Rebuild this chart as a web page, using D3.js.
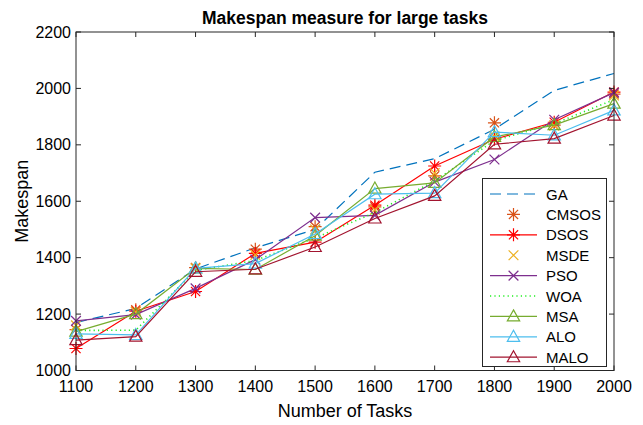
<!DOCTYPE html>
<html>
<head>
<meta charset="utf-8">
<script src="https://cdn.jsdelivr.net/npm/d3@7"></script>
<style>
  html, body { margin: 0; padding: 0; background: #fff; }
  svg { display: block; font-family: "Liberation Sans", Arial, Helvetica, sans-serif; }
</style>
</head>
<body>
<svg id="chart" width="643" height="425"></svg>
<script>
// Number of tasks on the x axis
const tasks = [1100, 1200, 1300, 1400, 1500, 1600, 1700, 1800, 1900, 2000];

// Makespan of each algorithm per task count
const ga    = [1170, 1220, 1360, 1435, 1500, 1703, 1751, 1855, 1993, 2053];
const cmsos = [1145, 1215, 1365, 1430, 1510, 1580, 1690, 1878, 1870, 1980];
const dsos  = [1078, 1210, 1280, 1415, 1455, 1586, 1725, 1820, 1880, 1987];
const msde  = [1160, 1208, 1362, 1410, 1500, 1570, 1700, 1830, 1868, 1975];
const pso   = [1176, 1198, 1291, 1393, 1542, 1550, 1668, 1748, 1889, 1985];
const woa   = [1142, 1143, 1355, 1390, 1470, 1560, 1672, 1815, 1875, 1960];
const msa   = [1138, 1200, 1362, 1358, 1478, 1645, 1665, 1828, 1870, 1946];
const alo   = [1130, 1126, 1362, 1379, 1484, 1625, 1629, 1845, 1834, 1922];
const malo  = [1108, 1120, 1350, 1359, 1438, 1539, 1619, 1802, 1822, 1904];

const yTicks = [1000, 1200, 1400, 1600, 1800, 2000, 2200];

const series = [
  { name: "GA",    values: ga,    color: "#0072BD", line: "dash",  marker: null },
  { name: "CMSOS", values: cmsos, color: "#D95319", line: null,    marker: "asterisk" },
  { name: "DSOS",  values: dsos,  color: "#FF0000", line: "solid", marker: "asterisk" },
  { name: "MSDE",  values: msde,  color: "#EDB120", line: null,    marker: "cross" },
  { name: "PSO",   values: pso,   color: "#7E2F8E", line: "solid", marker: "cross" },
  { name: "WOA",   values: woa,   color: "#22EE22", line: "dot",   marker: null },
  { name: "MSA",   values: msa,   color: "#77AC30", line: "solid", marker: "triangle" },
  { name: "ALO",   values: alo,   color: "#4DBEEE", line: "solid", marker: "triangle" },
  { name: "MALO",  values: malo,  color: "#A2142F", line: "solid", marker: "triangle" }
];

const svg = d3.select("#chart");
const plotLeft = 76, plotRight = 614, plotTop = 32, plotBottom = 370.5;
const axisColor = "#262626";

const x = d3.scaleLinear().domain([1100, 2000]).range([plotLeft, plotRight]);
const y = d3.scaleLinear().domain([1000, 2200]).range([plotBottom, plotTop]);

const plot = svg.append("g");

// Marker shapes drawn around (0,0)
function markerPath(type, r) {
  if (type === "asterisk") {
    const d = r * 0.7071;
    return `M${-r},0L${r},0M0,${-r}L0,${r}M${-d},${-d}L${d},${d}M${-d},${d}L${d},${-d}`;
  }
  if (type === "cross") {
    const d = r * 0.75;
    return `M${-d},${-d}L${d},${d}M${-d},${d}L${d},${-d}`;
  }
  if (type === "triangle") {
    return `M0,${-r}L${r * 0.95},${r * 0.7}L${-r * 0.95},${r * 0.7}Z`;
  }
  return "";
}

const lineGen = d3.line().x((d, i) => x(tasks[i])).y(d => y(d));

function dashFor(kind) {
  if (kind === "dash") return "11,6";
  if (kind === "dot") return "1.2,3.2";
  return null;
}

series.forEach(s => {
  const g = plot.append("g");
  if (s.line) {
    g.append("path")
      .attr("d", lineGen(s.values))
      .attr("fill", "none")
      .attr("stroke", s.color)
      .attr("stroke-width", s.line === "dot" ? 1.6 : 1.2)
      .attr("stroke-dasharray", dashFor(s.line));
  }
  if (s.marker) {
    g.selectAll("path.m")
      .data(s.values)
      .join("path")
      .attr("class", "m")
      .attr("transform", (d, i) => `translate(${x(tasks[i])},${y(d)})`)
      .attr("d", markerPath(s.marker, 6.5))
      .attr("fill", "none")
      .attr("stroke", s.color)
      .attr("stroke-width", 1.2);
  }
});

// Axes box with inward ticks on all four sides
const frame = svg.append("g");
frame.append("rect")
  .attr("x", plotLeft).attr("y", plotTop)
  .attr("width", plotRight - plotLeft).attr("height", plotBottom - plotTop)
  .attr("fill", "none").attr("stroke", axisColor).attr("stroke-width", 1);

const tl = 5;
tasks.forEach(t => {
  frame.append("line").attr("x1", x(t)).attr("x2", x(t)).attr("y1", plotBottom).attr("y2", plotBottom - tl)
    .attr("stroke", axisColor);
  frame.append("line").attr("x1", x(t)).attr("x2", x(t)).attr("y1", plotTop).attr("y2", plotTop + tl)
    .attr("stroke", axisColor);
  frame.append("text").attr("x", x(t)).attr("y", plotBottom + 21)
    .attr("text-anchor", "middle").attr("font-size", 16).attr("fill", "#000").text(t);
});
yTicks.forEach(v => {
  frame.append("line").attr("x1", plotLeft).attr("x2", plotLeft + tl).attr("y1", y(v)).attr("y2", y(v))
    .attr("stroke", axisColor);
  frame.append("line").attr("x1", plotRight).attr("x2", plotRight - tl).attr("y1", y(v)).attr("y2", y(v))
    .attr("stroke", axisColor);
  frame.append("text").attr("x", plotLeft - 5).attr("y", y(v) + 5.5)
    .attr("text-anchor", "end").attr("font-size", 16).attr("fill", "#000").text(v);
});

// Titles
svg.append("text").attr("x", (plotLeft + plotRight) / 2).attr("y", 24)
  .attr("text-anchor", "middle").attr("font-size", 17.5).attr("font-weight", "bold")
  .attr("fill", "#000").text("Makespan measure for large tasks");
svg.append("text").attr("x", (plotLeft + plotRight) / 2).attr("y", 417)
  .attr("text-anchor", "middle").attr("font-size", 18).attr("fill", "#000").text("Number of Tasks");
svg.append("text").attr("transform", `translate(28,${(plotTop + plotBottom) / 2}) rotate(-90)`)
  .attr("text-anchor", "middle").attr("font-size", 18).attr("fill", "#000").text("Makespan");

// Legend
const lg = svg.append("g");
const lx = 482.5, ly = 178.5, lw = 124, lh = 188;
lg.append("rect").attr("x", lx).attr("y", ly).attr("width", lw).attr("height", lh)
  .attr("fill", "#fff").attr("stroke", axisColor).attr("stroke-width", 1);
series.forEach((s, i) => {
  const cy = 194 + i * 20.4;
  const x1 = 490, x2 = 537, cx = (x1 + x2) / 2;
  if (s.line) {
    lg.append("line").attr("x1", x1).attr("x2", x2).attr("y1", cy).attr("y2", cy)
      .attr("stroke", s.color).attr("stroke-width", s.line === "dot" ? 1.6 : 1.2)
      .attr("stroke-dasharray", dashFor(s.line));
  }
  if (s.marker) {
    lg.append("path").attr("transform", `translate(${cx},${cy})`)
      .attr("d", markerPath(s.marker, 6.5))
      .attr("fill", "none").attr("stroke", s.color).attr("stroke-width", 1.2);
  }
  lg.append("text").attr("x", 546).attr("y", cy + 5.5)
    .attr("font-size", 15).attr("fill", "#000").text(s.name);
});
</script>
</body>
</html>
